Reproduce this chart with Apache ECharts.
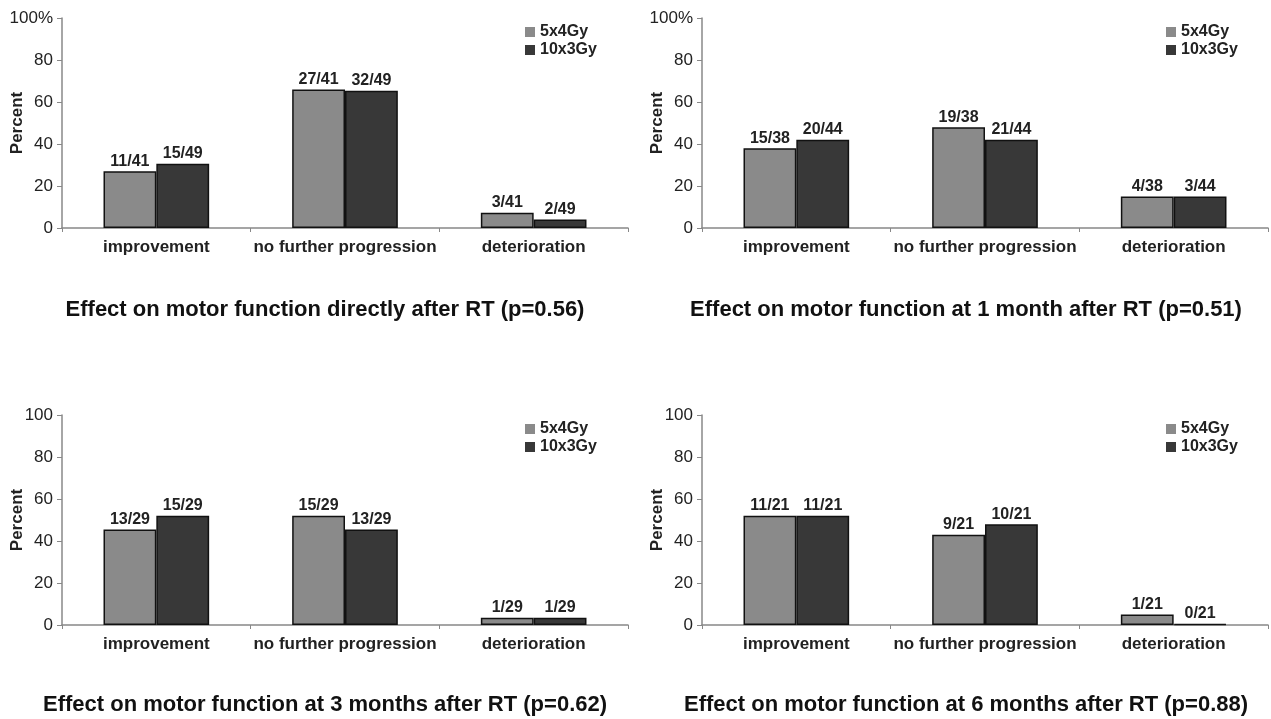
<!DOCTYPE html>
<html>
<head>
<meta charset="utf-8">
<script src="https://cdn.jsdelivr.net/npm/echarts@6/dist/echarts.min.js"></script>
<style>
html,body{margin:0;padding:0;background:#fff;}
#c{width:1271px;height:719px;}
</style>
</head>
<body>
<div id="c"></div>
<script>
// ---- data ----
const categories = ['improvement', 'no further progression', 'deterioration'];
const seriesNames = ['5x4Gy', '10x3Gy'];
const titles = [
  'Effect on motor function directly after RT (p=0.56)',
  'Effect on motor function at 1 month after RT (p=0.51)',
  'Effect on motor function at 3 months after RT (p=0.62)',
  'Effect on motor function at 6 months after RT (p=0.88)'
];
// percent values
const directly_5x4 = [27, 66, 7.3];
const directly_10x3 = [30.6, 65.3, 4.1];
const month1_5x4 = [38, 48, 15];
const month1_10x3 = [42, 42, 15];
const month3_5x4 = [45.5, 52, 3.4];
const month3_10x3 = [52, 45.5, 3.4];
const month6_5x4 = [52, 43, 5];
const month6_10x3 = [52, 48, 0.5];
// bar labels
const directly_lbl_5x4 = ['11/41', '27/41', '3/41'];
const directly_lbl_10x3 = ['15/49', '32/49', '2/49'];
const month1_lbl_5x4 = ['15/38', '19/38', '4/38'];
const month1_lbl_10x3 = ['20/44', '21/44', '3/44'];
const month3_lbl_5x4 = ['13/29', '15/29', '1/29'];
const month3_lbl_10x3 = ['15/29', '13/29', '1/29'];
const month6_lbl_5x4 = ['11/21', '9/21', '1/21'];
const month6_lbl_10x3 = ['11/21', '10/21', '0/21'];

const panels = [
  {v: [directly_5x4, directly_10x3], l: [directly_lbl_5x4, directly_lbl_10x3], pct: true},
  {v: [month1_5x4, month1_10x3], l: [month1_lbl_5x4, month1_lbl_10x3], pct: true},
  {v: [month3_5x4, month3_10x3], l: [month3_lbl_5x4, month3_lbl_10x3], pct: false},
  {v: [month6_5x4, month6_10x3], l: [month6_lbl_5x4, month6_lbl_10x3], pct: false}
];

// ---- layout ----
const FONT = '"Liberation Sans", Arial, sans-serif';
const grids = [
  {left: 62, top: 18, width: 566, height: 210},
  {left: 702, top: 18, width: 566, height: 210},
  {left: 62, top: 415, width: 566, height: 210},
  {left: 702, top: 415, width: 566, height: 210}
];
const titlePos = [[325, 310], [966, 310], [325, 705], [966, 705]];
const legendPos = [[520, 19], [1161, 19], [520, 416], [1161, 416]];
const colors = ['#8a8a8a', '#383838'];

const option = {
  animation: false,
  backgroundColor: '#fff',
  grid: grids.map(g => Object.assign({containLabel: false, outerBoundsMode: 'none'}, g)),
  legend: legendPos.map(p => ({
    data: seriesNames, left: p[0], top: p[1], orient: 'vertical',
    itemWidth: 10, itemHeight: 10, itemGap: 2, selectedMode: false,
    icon: 'rect',
    itemStyle: {borderWidth: 0},
    textStyle: {fontFamily: FONT, fontWeight: 'bold', fontSize: 16, color: '#222', padding: [0, 0, 0, 0]}
  })),
  xAxis: grids.map((g, i) => ({
    type: 'category', gridIndex: i, data: categories,
    axisLine: {lineStyle: {color: '#888', width: 1.5}},
    axisTick: {show: true, alignWithLabel: false, length: 4, lineStyle: {color: '#888'}},
    axisLabel: {fontFamily: FONT, fontWeight: 'bold', fontSize: 17, color: '#222', margin: 11, interval: 0}
  })),
  yAxis: grids.map((g, i) => ({
    type: 'value', gridIndex: i, min: 0, max: 100, interval: 20,
    name: 'Percent', nameLocation: 'middle', nameGap: 36, nameMoveOverlap: false,
    nameTextStyle: {fontFamily: FONT, fontWeight: 'bold', fontSize: 17, color: '#222'},
    splitLine: {show: false},
    axisLine: {show: true, lineStyle: {color: '#888', width: 1.5}},
    axisTick: {show: true, length: 5, lineStyle: {color: '#888'}},
    axisLabel: {
      fontFamily: FONT, fontSize: 17, color: '#222', margin: 9,
      formatter: v => (panels[i].pct && v === 100) ? '100%' : String(v)
    }
  })),
  series: [],
  graphic: titlePos.map((p, i) => ({
    type: 'text', x: p[0], y: p[1],
    style: {text: titles[i], font: 'bold 22px ' + FONT, fill: '#111', align: 'center', verticalAlign: 'middle'}
  }))
};

panels.forEach((p, i) => {
  [0, 1].forEach(s => {
    option.series.push({
      type: 'bar', name: seriesNames[s], xAxisIndex: i, yAxisIndex: i,
      data: p.v[s], barGap: '0%', barCategoryGap: '44%',
      itemStyle: {color: colors[s], borderColor: '#111', borderWidth: 1.5},
      label: {
        show: true, position: 'top', distance: 2,
        fontFamily: FONT, fontWeight: 'bold', fontSize: 16, color: '#222',
        formatter: q => p.l[s][q.dataIndex]
      }
    });
  });
});

const chart = echarts.init(document.getElementById('c'), null, {renderer: 'canvas'});
chart.setOption(option);
</script>
</body>
</html>
